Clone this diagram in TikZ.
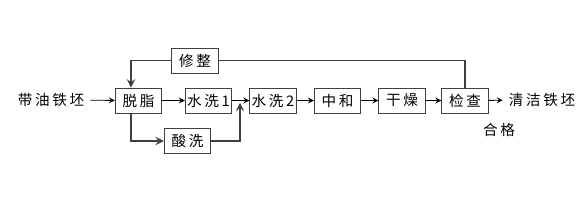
\documentclass[tikz,border=0pt]{standalone}
\usepackage{fontspec}
\newfontfamily\cjk[LetterSpace=18]{Noto Sans CJK SC}
\tikzset{
  box/.style={draw=black!75, line width=0.5pt, minimum width=0.93cm, minimum height=0.5cm, inner sep=0pt},
  flow/.style={->, line width=0.5pt},
  loop/.style={->, line width=1.1pt, draw=black!75}
}
\begin{document}
\begin{tikzpicture}[x=0.02cm, y=-0.02cm, >=stealth, font=\cjk\fontsize{8.3}{10}\selectfont]
  \useasboundingbox (0,0) rectangle (583,206);
  \node (src) at (51,100) {带油铁坯};
  \node[box] (tz) at (138.5,100.5) {脱脂};
  \node[box] (sx1) at (208.5,100.5) {水洗1};
  \node[box] (sx2) at (273,100.5) {水洗2};
  \node[box] (zh) at (337.5,100.5) {中和};
  \node[box] (gz) at (402,100.5) {干燥};
  \node[box] (jc) at (465,100.5) {检查};
  \node (dst) at (542,100) {清洁铁坯};
  \node (hg) at (499,130) {合格};
  \node[box] (xz) at (195,60.5) {修整};
  \node[box] (sx) at (187.5,141) {酸洗};
  \coordinate (mid) at (240,101);

  \draw[flow] (src) -- (tz);
  \draw[flow] (tz) -- (sx1);
  \draw[flow] (sx1) -- (sx2);
  \draw[flow] (sx2) -- (zh);
  \draw[flow] (zh) -- (gz);
  \draw[flow] (gz) -- (jc);
  \draw[flow] (jc) -- (dst);
  % loops
  \draw[loop, -] (jc.north) |- (xz.east);
  \draw[loop] (xz.west) -| ([xshift=-1.5mm]tz.north);
  \draw[loop] ([xshift=-1.5mm]tz.south) |- (sx.west);
  \draw[loop, shorten >=1pt] (sx.east) -| (mid);
\end{tikzpicture}
\end{document}
